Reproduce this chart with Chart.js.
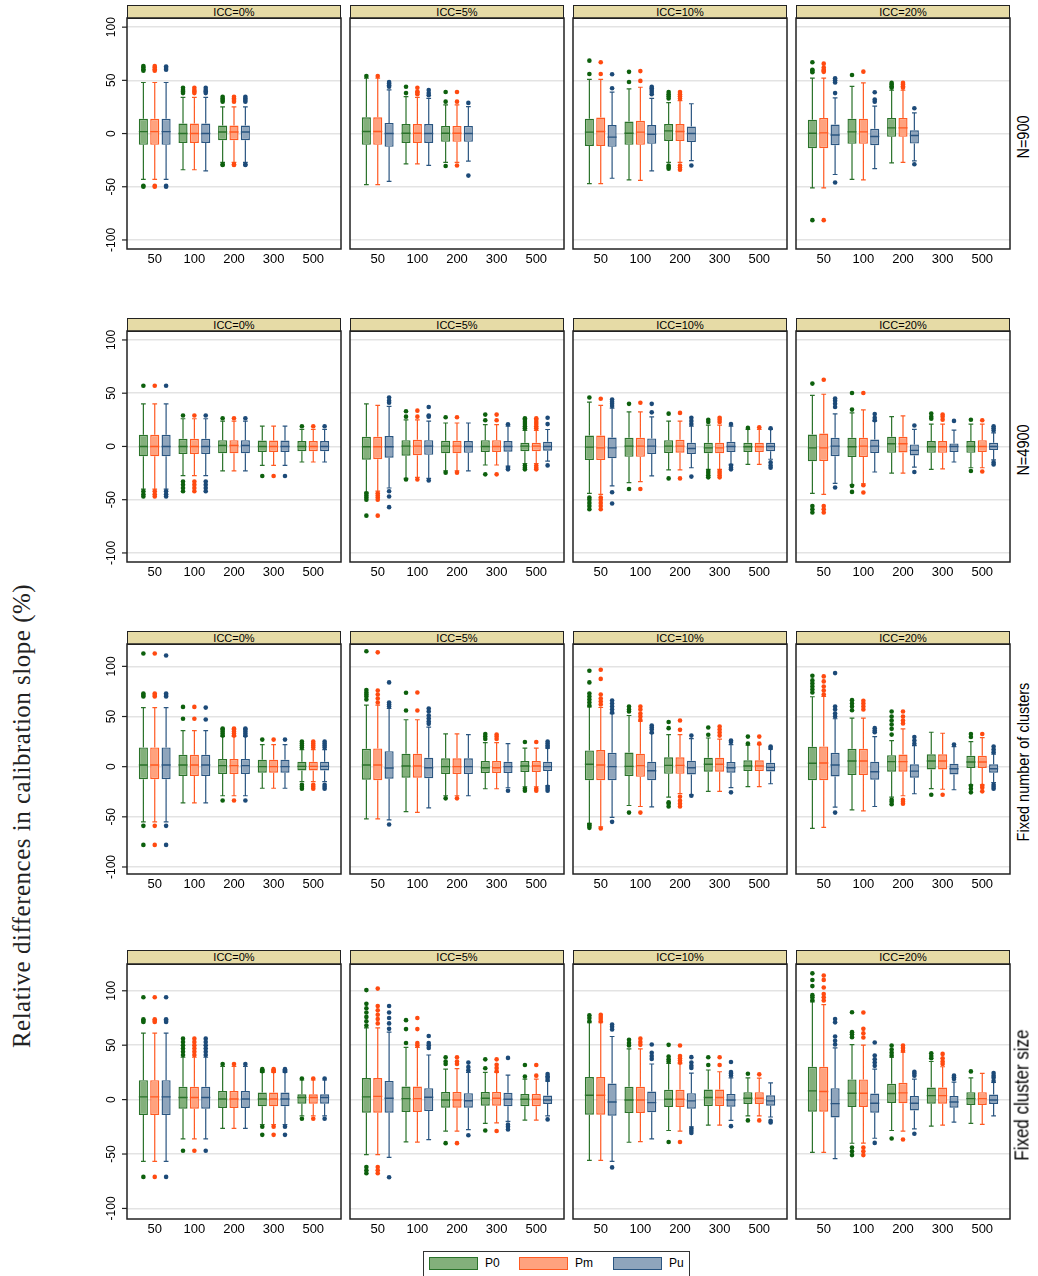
<!DOCTYPE html>
<html>
<head>
<meta charset="utf-8">
<title>Relative differences in calibration slope</title>
<script src="https://cdn.jsdelivr.net/npm/chart.js@4.4.1/dist/chart.umd.min.js"></script>
<style>
  body { margin: 0; background: #fff; }
  #fig { position: relative; width: 1038px; height: 1276px; overflow: hidden; font-family: 'Liberation Sans', Arial, sans-serif; color: #000; }
  #fig canvas { position: absolute; }
  .strip { position: absolute; box-sizing: border-box; border: 1px solid #222; background: #e6dba6; font-size: 11px; text-align: center; }
  .rowlab { position: absolute; white-space: nowrap; font-size: 14.5px; transform: translate(-50%, -50%) rotate(-90deg) scale(1, 1.15); }
  .ytitle { position: absolute; white-space: nowrap; font-family: 'Liberation Serif', 'DejaVu Serif', serif; font-size: 25px; letter-spacing: 0.5px; color: #222;
            transform: translate(-50%, -50%) rotate(-90deg); }
  .legend { position: absolute; box-sizing: border-box; border: 1px solid #333; background: #fff; font-size: 12px; }
  .legend span { position: absolute; }
  .legend .sw { box-sizing: border-box; border: 1.5px solid; width: 49px; height: 13px; }
</style>
</head>
<body>
<div id="fig"></div>
<script>
const categories = ['50', '100', '200', '300', '500'];
const seriesNames = ['P0', 'Pm', 'Pu'];
const iccLabels = ['ICC=0%', 'ICC=5%', 'ICC=10%', 'ICC=20%'];
const rowLabels = ['N=900', 'N=4900', 'Fixed number of clusters', 'Fixed cluster size'];
const yTicks = [-100, -50, 0, 50, 100];

// one entry per cluster count: [lower whisker, q1, median, q3, upper whisker, [outliers]]
// null = setting not simulated

// N=900
const n900_icc0_P0 = [[-43, -10.6, 1.8, 13.8, 48, [-50, -49, 59, 60.5, 62, 63.5]], [-34, -8.8, 0, 9.4, 34, [38, 39.5, 41, 43]], [-27, -6.3, 1.5, 7.5, 25, [-29.5, -29, 30, 31.5, 33, 34.5]], null, null];
const n900_icc0_Pm = [[-43, -10.6, 1.8, 13.8, 48, [-50, -49, 59, 60.5, 62, 63.5]], [-34, -8.8, 0, 9.4, 34, [38, 39.5, 41, 43]], [-27, -6.3, 1.5, 7.5, 25, [-29.5, -29, 30, 31.5, 33, 34.5]], null, null];
const n900_icc0_Pu = [[-43, -10.6, 1.8, 13.8, 48, [-50, -49, 60, 61.5, 63]], [-35, -8.8, 0, 9.4, 34, [38, 39.5, 41, 43]], [-27, -6.3, 1.5, 7.5, 25, [-29.5, -29, 30, 31.5, 33, 34.5]], null, null];

const n900_icc5_P0 = [[-48, -10.6, 1.9, 15.3, 52, [54]], [-28.5, -8.8, 0.3, 9, 34.7, [38, 44]], [-27, -7.8, 0.3, 7.2, 27, [-30.5, 30, 39]], null, null];
const n900_icc5_Pm = [[-48, -10.6, 1.9, 15.3, 52, [54]], [-28.5, -8.8, 0.3, 9, 34, [37, 38.5, 39.5, 43]], [-27, -7.8, 0.3, 7.2, 27, [-30, 30, 39]], null, null];
const n900_icc5_Pu = [[-45, -12.5, 0, 10, 41, [44, 45.5, 47, 48.5]], [-30, -8.8, 0, 9, 33, [36, 38, 41]], [-26, -7.8, 0, 7.2, 25.4, [-39.5, 28.8]], null, null];

const n900_icc10_P0 = [[-47, -11.6, 1.3, 14, 51, [56, 68.5]], [-43.5, -10.6, 0.3, 11.3, 42, [48.5, 58]], [-27, -6.9, 2.5, 9, 29, [-33, -31.5, -30, 33, 35, 37, 39]], null, null];
const n900_icc10_Pm = [[-47, -11.6, 2, 15, 51, [56, 67]], [-44, -10.6, 1.3, 12, 43.5, [49.5, 58.7]], [-27, -6.9, 2, 9, 31, [-34, -32, -30, 33, 35, 37, 39]], null, null];
const n900_icc10_Pu = [[-42, -12.5, -3.4, 8, 39, [42.6, 55.7]], [-35, -9.7, -0.6, 8, 33, [37, 39, 41, 42.5, 44]], [-25.4, -8, 0, 6.6, 28, [-30]], null, null];

const n900_icc20_P0 = [[-51, -13.8, 0.3, 13, 52, [-81.4, 57.6, 59, 60, 67]], [-43, -9.7, 1.6, 14, 44.4, [55]], [-27.5, -3.1, 5.3, 14.7, 40.7, [43, 44.5, 46, 47.6]], null, null];
const n900_icc20_Pm = [[-51, -13.8, 0.6, 14.7, 52, [-81.4, 58, 59, 60, 62, 65.7]], [-43.6, -9.7, 1.6, 14, 47.6, [58.2]], [-27, -3.1, 5.3, 14.7, 40.7, [43, 44.5, 46, 47.6]], null, null];
const n900_icc20_Pu = [[-38.5, -11, -1.3, 8.5, 33.5, [-46, 38, 48, 50, 52]], [-33, -11, -2.8, 4.4, 25.7, [30, 32, 38.8]], [-25.6, -9.4, -1.9, 3.1, 19.4, [-28.8, 23.8]], null, null];

// N=4900
const n4900_icc0_P0 = [[-40, -9.3, 0, 10.9, 40, [-47, -45, -42, 57]], [-27.4, -7.2, 0, 7.2, 26, [-42, -39, -36, -33, 29]], [-23, -6.5, 0.9, 5.9, 23.7, [26.5]], [-17.8, -5.3, 0, 5.6, 19, [-27.7]], [-14.6, -4.4, 0, 5, 16, [19]]];
const n4900_icc0_Pm = [[-40, -9.3, 0, 10.9, 40, [-47, -45, -42, 57]], [-27.4, -7.2, 0, 7.2, 26, [-42, -39, -36, -33, 29]], [-23, -6.5, 0.9, 5.9, 23.7, [26.5]], [-17.8, -5.3, 0, 5.6, 19, [-27.7]], [-14.6, -4.4, 0, 5, 16, [19]]];
const n4900_icc0_Pu = [[-40, -9.3, 0, 10.9, 40, [-47, -45, -42, 57]], [-27.4, -7.2, 0, 7.2, 26, [-42, -39, -36, -33, 29]], [-23, -6.5, 0.9, 5.9, 23.7, [26.5]], [-17.8, -5.3, 0, 5.6, 19, [-27.7]], [-14.6, -4.4, 0, 5, 16, [19]]];

const n4900_icc5_P0 = [[-43, -12.5, -0.3, 9, 40, [-65, -50, -48, -46, -44]], [-30, -8.7, 0.3, 5.9, 25, [-31, 28, 33]], [-23, -6.5, 0.3, 5.3, 22, [-24.6, 27.4]], [-17.4, -5.3, 0, 5.9, 20.5, [-26.2, 24.6, 29.9]], [-16, -4.4, 0.3, 3.4, 15, [-21.5, -20, -18, 17, 19, 21, 23, 25, 26.5]]];
const n4900_icc5_Pm = [[-42, -12, -0.3, 9, 38.6, [-65, -50, -48, -46, -44]], [-29, -8.2, 0.3, 6.2, 25, [-31, 28, 33.6]], [-23, -6.5, 0.3, 5.3, 22, [-24.6, 27.4]], [-17.4, -5.3, 0, 5.9, 20.5, [-26.2, 24.6, 29.9]], [-16, -4.4, 0.3, 3.4, 15, [-21.5, -20, -18, 17, 19, 21, 23, 25, 26.5]]];
const n4900_icc5_Pu = [[-39, -10.6, -0.3, 9.7, 37.7, [-57, -47, -42, 41, 43, 46]], [-30, -7.9, 0.3, 5.9, 23.7, [-32, 28, 29, 37]], [-23, -6, 0, 5, 22, []], [-18.4, -5, 0, 5, 19, [-21.5, -20, 20.9]], [-13.7, -4, 0, 4.5, 15.9, [-17.8, 21, 27]]];

const n4900_icc10_P0 = [[-44, -12.8, -0.6, 10.3, 41.7, [-59, -56, -53, -50, -48, 46]], [-34, -9.7, 0.3, 8.1, 32.4, [-40, 40]], [-22, -6.2, 0.3, 5.9, 23.7, [-30, 30.8]], [-21.5, -6.5, -1.3, 3.4, 20, [-29, -27, -25, -23, 23, 25]], [-16.8, -5.3, -0.3, 3.4, 16, [17.4]]];
const n4900_icc10_Pm = [[-45, -12.8, -1.3, 10.3, 38.6, [-59, -56, -53, -50, -48, 44.8]], [-33, -9.7, 0.3, 8.1, 32.4, [-40, 41]], [-22, -5.9, 0.3, 6.2, 23.7, [-30, 31.5]], [-21.5, -6.5, -1.3, 3.4, 20, [-29, -27, -25, -23, 23, 25, 27]], [-16.8, -5.3, -0.3, 3.4, 16, [18]]];
const n4900_icc10_Pu = [[-37, -11.2, -1.3, 8.4, 36, [-53.6, -43, 38, 40, 42, 44]], [-27.7, -7.2, 0.3, 7.5, 27.7, [32, 40]], [-20, -7.2, -1.9, 3.4, 19, [-28.3, 21, 24, 27]], [-16.8, -5.3, 0, 4.4, 19, [-21.5, -20, -18, 21]], [-12, -4.4, 0, 3.4, 16, [-20, -18, -15, 17]]];

const n4900_icc20_P0 = [[-44, -14, -1.3, 11.2, 48, [-62, -59, -56, 59]], [-36, -10, -0.3, 8.1, 31.5, [-42.7, -37, 34.6, 50.2]], [-25, -6, 2.5, 9, 28, []], [-21.5, -6, -0.3, 5, 21, [26, 28, 31]], [-20, -6, 0, 5, 21, [-23, 25]]];
const n4900_icc20_Pm = [[-45, -13.7, -1.3, 12.1, 49, [-62, -59, -56, 62.6]], [-35.2, -10, 0.3, 8.1, 34.3, [-43.3, -36.5, 50.2]], [-25, -5.6, 2.5, 9, 28.7, []], [-21, -6, -0.3, 5, 21, [25, 28, 30]], [-20, -5.3, 0, 5.9, 21, [-23.5, 24.6]]];
const n4900_icc20_Pu = [[-34.6, -9.1, 0.3, 8.1, 30.5, [-38.6, 37, 40, 43, 45]], [-24, -6.2, 0.3, 6.5, 23.7, [24.6, 27, 30.5]], [-19.4, -8.4, -3.7, 1.9, 16, [-24, 19.6]], [-14.6, -5.3, 0, 2.8, 15.3, [24]], [-12.7, -3.4, 0, 3.4, 12.8, [-17, -15, 15, 17, 19]]];

// Fixed number of clusters
const fnc_icc0_P0 = [[-55, -12.5, 1.7, 19.2, 58.9, [-78, -59, 70, 71.5, 73, 112.8]], [-36, -9.4, 1.7, 11.8, 36, [47.8, 59.6]], [-29, -7.4, 1, 7.7, 30.3, [-33.7, 31, 33, 35, 37, 38]], [-21.5, -6, 0, 7, 22, [27]], [-15, -3.7, 0.3, 5, 17, [-22, -20, -18, 19, 21, 23, 25]]];
const fnc_icc0_Pm = [[-55, -12.5, 1.7, 19.2, 58.9, [-78, -59, 70, 71.5, 73, 112.8]], [-36, -9.4, 1.7, 11.8, 36, [47.8, 59.6]], [-29, -7.4, 1, 7.7, 30.3, [-33.7, 31, 33, 35, 37, 38]], [-21.5, -6, 0, 7, 22, [27]], [-15, -3.7, 0.3, 5, 17, [-22, -20, -18, 19, 21, 23, 25]]];
const fnc_icc0_Pu = [[-55, -12.5, 1.7, 19.2, 58.9, [-78, -59, 70, 71.5, 73, 110.8]], [-36, -9.4, 1.7, 11.8, 36, [47, 58.9]], [-29, -7.4, 1, 7.7, 30.3, [-33.7, 31, 33, 35, 37, 38]], [-21.5, -6, 0, 7, 22, [27]], [-15, -3.7, 0.3, 5, 17, [-22, -20, -18, 19, 21, 23, 25]]];

const fnc_icc5_P0 = [[-52, -13, 1.7, 17.8, 61.3, [67, 70, 72, 74, 76.5, 115]], [-44.8, -11, 0.7, 13, 46.8, [56, 73.7]], [-29, -7.4, 0, 8.4, 32.6, [-31.6]], [-22, -6.4, -1, 5.7, 24, [27.6, 30, 32.6]], [-20, -5.4, 0.7, 5.7, 18.5, [-24, -22, 24.6]]];
const fnc_icc5_Pm = [[-52, -13.5, 1.7, 18.2, 61.3, [64, 68, 72, 76, 114]], [-45.5, -11, 0.7, 13, 46.8, [56, 74]], [-29, -7.4, 0, 8.4, 32.6, [-31.6]], [-22, -6.4, -1, 5.7, 24, [27.6, 30, 32]], [-20, -5.4, 0.7, 5.7, 18.5, [-24, -22, 24.6]]];
const fnc_icc5_Pu = [[-53, -12, -1.3, 15.5, 58, [-57.6, 60, 62, 64, 84]], [-41, -11.5, -1, 9, 39.4, [42.7, 45, 48, 51, 55, 58]], [-29, -7.4, 0, 8.4, 32, []], [-21, -6.4, 0, 5, 23, [-24]], [-19, -4.4, 0, 5, 18.5, [-24, -22, -20, 19.5, 21, 23, 25]]];

const fnc_icc10_P0 = [[-56.6, -13.5, 2.4, 16.2, 59.6, [-61, -59, -58, 61, 64, 67, 70, 73, 84, 95.6]], [-38.7, -9.4, 0.3, 14.1, 51, [-45.8, 55, 57, 60]], [-30.3, -7.1, 1.3, 9.4, 32, [-39.7, -37, -35.4, 38.4, 44.5]], [-24.6, -5, 2.4, 9, 28.6, [31.9, 39]], [-19.9, -4.4, 0.7, 6.4, 21.5, [23, 30]]];
const fnc_icc10_Pm = [[-60, -13.5, 1.7, 16.5, 59, [-61.6, 62, 65, 68, 72, 87.5, 96.6]], [-39.7, -10.1, 1, 13, 45.5, [-45.8, 46.5, 50, 53, 57, 60]], [-26.9, -7.1, 1.3, 9.4, 32, [-39.7, -37, -34, -30, 36.7, 46]], [-24.6, -5, 2.4, 9, 27.5, [31, 34, 37, 40]], [-19.9, -4.4, 0.7, 6.4, 22, [23, 30]]];
const fnc_icc10_Pu = [[-50.5, -13.5, 0, 13.8, 52.9, [-55, 54, 57, 60, 63, 66]], [-40, -13.5, -4, 5, 33.3, [34, 37, 39, 41]], [-28, -7.7, -1, 6, 27.9, [-29, 31]], [-20.9, -6, -1, 4.7, 22, [-25.6, 24.6, 26]], [-17, -4.7, -0.7, 4, 17.5, [18.5, 20]]];

const fnc_icc20_P0 = [[-61.6, -13.5, 3.4, 19.9, 69.7, [74, 77, 80, 83, 86, 90.6]], [-43, -8.4, 5.7, 17.8, 48.5, [56.2, 60, 63, 66.3]], [-30.3, -5, 5, 11.5, 26, [-37.4, -35, -33, 32, 37.7, 42, 46, 50, 55]], [-21.9, -2.7, 5.7, 12.4, 34.3, [-28]], [-18, -1.3, 4.7, 10.8, 25, [-25.6, -22, -19, 29.6, 32.6]]];
const fnc_icc20_Pm = [[-60.6, -13.5, 3.7, 20.2, 70, [72, 76, 80, 85, 90]], [-44, -8.4, 5.7, 17.8, 48.5, [57, 60, 63, 65.7]], [-29, -5, 5, 12.1, 37.7, [-37, -35, -33, 43, 46, 50, 55]], [-22.5, -2.7, 5.7, 12.4, 33.3, [-28]], [-18, -1.3, 4.7, 10.8, 29, [-24.6, -21, -19, 32.6]]];
const fnc_icc20_Pu = [[-40.3, -9.7, 1.7, 13.8, 47.8, [-45.8, 50, 53, 57, 60, 93.3]], [-39.7, -13, -5, 5, 30, [34.3, 36, 38.4]], [-27, -11, -4.4, 2.4, 20.9, [22.9, 26, 29.6]], [-23, -7.7, -2, 3, 20, [22]], [-16, -6, -2, 2.4, 12.5, [-22, -20, -18, 14.5, 17, 20]]];

// Fixed cluster size
const fcs_icc0_P0 = [[-56.8, -14.2, 2.5, 17.9, 61, [-71, 71.3, 72.5, 73.8, 94.1]], [-36, -8.3, 1.9, 11.7, 38.9, [-47, 41, 44, 47, 50, 53, 56]], [-26.5, -7.7, 0.6, 8, 30.6, [32.7]], [-22.9, -6.2, 0.6, 6.5, 25, [-32.4, -25, 26, 27, 28]], [-15, -3.7, 1.9, 4.9, 18, [-17.6, 19.4]]];
const fcs_icc0_Pm = [[-56.8, -14.2, 2.5, 17.9, 61, [-71, 71.3, 72.5, 73.8, 94.1]], [-36, -8.3, 1.9, 11.7, 38.9, [-47, 41, 44, 47, 50, 53, 56]], [-26.5, -7.7, 0.6, 8, 30.6, [32.7]], [-22.9, -6.2, 0.6, 6.5, 25, [-32.4, -25, 26, 27, 28]], [-15, -3.7, 1.9, 4.9, 18, [-17.6, 19.4]]];
const fcs_icc0_Pu = [[-56.8, -14.2, 2.5, 17.9, 61, [-71, 71.3, 72.5, 73.8, 94.1]], [-36, -8.3, 1.9, 11.7, 38.9, [-47, 41, 44, 47, 50, 53, 56]], [-26.5, -7.7, 0.6, 8, 30.6, [32.7]], [-22.9, -6.2, 0.6, 6.5, 25, [-32.4, -25, 26, 27, 28]], [-15, -3.7, 1.9, 4.9, 18, [-17.6, 19.4]]];

const fcs_icc5_P0 = [[-50.6, -12, 2.5, 19.8, 66, [-67.6, -65, -62, 68, 72, 76, 80, 84, 88, 100.6]], [-38.9, -11.4, 0.9, 12, 48, [52, 64.8, 73]], [-29, -7.4, -0.3, 7.1, 28, [-40, 32.7, 35, 38.9]], [-21.9, -5.6, 1.2, 7.1, 25, [-28.4, 28.8, 37]], [-18.8, -6, 0.3, 5.2, 18.8, [21.3, 31.8]]];
const fcs_icc5_Pm = [[-50.6, -12, 3, 19.8, 66, [-67.6, -65, -62, 70, 74, 78, 82, 86, 102]], [-39, -11.4, 0.9, 12, 48, [50, 52, 64.8, 75]], [-29, -7.4, -0.3, 7.1, 28.5, [-40, 32.7, 35, 38.9]], [-21.3, -5.6, 1.2, 7.1, 25, [-28.9, 26, 29, 32, 37]], [-18.8, -6, 0.3, 5.2, 18.8, [22, 31.8]]];
const fcs_icc5_Pu = [[-53, -12, 1.2, 17.2, 62, [-71.3, 65, 70, 75, 80, 86]], [-36.7, -10.5, 2.2, 10.5, 41, [47.5, 50, 52, 58.4]], [-27.5, -7.4, -1, 5.9, 25, [-32.7, 27, 30, 34]], [-20, -6, 0.3, 6.2, 22.5, [-27.5, -25, -23, 38.3]], [-15, -4, -0.3, 3.7, 17, [-18.2, 18, 20, 21.5, 23.5]]];

const fcs_icc10_P0 = [[-55.9, -13.9, 4, 20.7, 70.6, [72, 75, 77.5]], [-39.2, -12.3, -0.3, 11.7, 46.6, [49.7, 52, 54.9]], [-28.4, -6.8, 0.3, 9, 33.3, [-38.9, 35, 37, 39.5, 50.3]], [-23.5, -5.9, 1.9, 9.3, 27.2, [31.8, 38.9]], [-15, -4, 1.2, 6.8, 20, [-19.1, 23.8]]];
const fcs_icc10_Pm = [[-55.9, -13.9, 4, 20.7, 70.6, [72, 74, 76, 78]], [-38.6, -12.3, -0.3, 11.7, 46.6, [50.3, 53, 56]], [-29, -6.8, 0.3, 9, 33, [-38.9, 34, 36, 38, 40, 49.7]], [-23.5, -5.9, 1.9, 9.3, 25.6, [31.8, 38.9]], [-15, -4, 1.2, 6.8, 19.7, [-19.1, 23.2]]];
const fcs_icc10_Pu = [[-56.8, -14.8, -2.2, 14.8, 58, [-62.3, 64.4, 67, 69]], [-36, -11.7, -2.8, 7.4, 32.7, [37.4, 40, 43, 50.6]], [-25, -8.3, -1.2, 5.9, 24.4, [-30.6, -28.5, -26.5, 29, 31, 34, 39]], [-19, -6.5, -0.3, 5.2, 20, [-24.4, 22.2, 24, 25.3, 34.6]], [-16, -5.6, -1.2, 4, 15.4, [-21, -19.5]]];

const fcs_icc20_P0 = [[-48.5, -11.1, 8, 30.2, 89.8, [91.4, 94, 96, 104.3, 109.9, 116]], [-40.1, -6.8, 5.9, 18.5, 50.6, [-51, -47.5, -44, 57.4, 60, 62, 80.2]], [-28.4, -3.1, 5.6, 14.5, 38.9, [-35.8, 40.4, 43, 46, 49.7]], [-24.4, -3.7, 3.7, 11.1, 35, [38, 40, 42.6]], [-21.9, -4.9, 0.9, 6.8, 20, [25.9]]];
const fcs_icc20_Pm = [[-48.5, -11.1, 7.4, 30.2, 87.3, [91, 94, 97, 103, 110, 114]], [-40, -6.8, 5.9, 18.5, 50, [-51, -47.5, -44, 57, 61, 65, 80]], [-28.9, -3.4, 6.2, 15.4, 43.5, [-36.7, 45, 47.5, 49.7]], [-23.5, -3.7, 3.7, 11.1, 30.2, [32.7, 35, 38, 42]], [-22.8, -4.9, 0.9, 6.8, 24.1, []]];
const fcs_icc20_Pu = [[-54.3, -16.4, -3.7, 10.5, 47.5, [50.6, 54, 58, 71, 74]], [-35.5, -12, -3.4, 5.6, 28, [-39.8, 31, 34, 37, 40.5, 52.5]], [-26.8, -9.9, -3.4, 3.4, 18.8, [-31.4, 21.9, 24, 25.6]], [-20.6, -7.4, -2.2, 3.4, 16, [19, 20.5, 22]], [-14.9, -4, -0.3, 4.6, 15.7, [17, 20, 22, 24.4]]];

const panels = [
  [[n900_icc0_P0, n900_icc0_Pm, n900_icc0_Pu], [n900_icc5_P0, n900_icc5_Pm, n900_icc5_Pu],
   [n900_icc10_P0, n900_icc10_Pm, n900_icc10_Pu], [n900_icc20_P0, n900_icc20_Pm, n900_icc20_Pu]],
  [[n4900_icc0_P0, n4900_icc0_Pm, n4900_icc0_Pu], [n4900_icc5_P0, n4900_icc5_Pm, n4900_icc5_Pu],
   [n4900_icc10_P0, n4900_icc10_Pm, n4900_icc10_Pu], [n4900_icc20_P0, n4900_icc20_Pm, n4900_icc20_Pu]],
  [[fnc_icc0_P0, fnc_icc0_Pm, fnc_icc0_Pu], [fnc_icc5_P0, fnc_icc5_Pm, fnc_icc5_Pu],
   [fnc_icc10_P0, fnc_icc10_Pm, fnc_icc10_Pu], [fnc_icc20_P0, fnc_icc20_Pm, fnc_icc20_Pu]],
  [[fcs_icc0_P0, fcs_icc0_Pm, fcs_icc0_Pu], [fcs_icc5_P0, fcs_icc5_Pm, fcs_icc5_Pu],
   [fcs_icc10_P0, fcs_icc10_Pm, fcs_icc10_Pu], [fcs_icc20_P0, fcs_icc20_Pm, fcs_icc20_Pu]]
];

// colours per series
const fills = ['#83b07b', '#ffa27e', '#8fa5bc'];
const edges = ['#2a722a', '#ff5a22', '#2a5580'];
const dots = ['#0d600d', '#ff4a10', '#1c4a78'];

// page geometry (frame = plot area of each panel)
const colLeft = [127, 350, 573, 796];
const frameW = 214;
const stripTop = [5, 318, 631, 950];
const frameTop = [18, 331, 644, 964];
const frameBottom = [249, 562, 874, 1219];
const yRange = [[-108.5, 108.6], [-108.5, 108.4], [-107, 122.3], [-109.7, 124.6]];
const xAxisH = 22;

const fig = document.getElementById('fig');

// whiskers behind the boxes, medians and outside values on top
const boxPlot = {
  id: 'boxPlot',
  beforeDatasetsDraw(chart) {
    const ctx = chart.ctx, y = chart.scales.y;
    chart.data.datasets.forEach((ds, d) => {
      const meta = chart.getDatasetMeta(d);
      ctx.save();
      ctx.strokeStyle = ds.borderColor;
      ctx.lineWidth = 1.2;
      ctx.beginPath();
      meta.data.forEach((bar, j) => {
        const [lo, q1, , q3, hi] = ds.data[j].stats;
        const cap = bar.width * 0.26;
        ctx.moveTo(bar.x, y.getPixelForValue(q3));
        ctx.lineTo(bar.x, y.getPixelForValue(hi));
        ctx.moveTo(bar.x, y.getPixelForValue(q1));
        ctx.lineTo(bar.x, y.getPixelForValue(lo));
        [lo, hi].forEach(v => {
          const py = y.getPixelForValue(v);
          ctx.moveTo(bar.x - cap, py);
          ctx.lineTo(bar.x + cap, py);
        });
      });
      ctx.stroke();
      ctx.restore();
    });
  },
  afterDatasetsDraw(chart) {
    const ctx = chart.ctx, y = chart.scales.y;
    chart.data.datasets.forEach((ds, d) => {
      const meta = chart.getDatasetMeta(d);
      ctx.save();
      ctx.strokeStyle = ds.borderColor;
      ctx.lineWidth = 1.4;
      ctx.beginPath();
      meta.data.forEach((bar, j) => {
        const py = y.getPixelForValue(ds.data[j].stats[2]);
        ctx.moveTo(bar.x - bar.width / 2, py);
        ctx.lineTo(bar.x + bar.width / 2, py);
      });
      ctx.stroke();
      ctx.fillStyle = ds.outlierColor;
      meta.data.forEach((bar, j) => {
        ds.data[j].stats[5].forEach(v => {
          ctx.beginPath();
          ctx.arc(bar.x, y.getPixelForValue(v), 2.3, 0, Math.PI * 2);
          ctx.fill();
        });
      });
      ctx.restore();
    });
  },
  afterDraw(chart, args, opts) {
    const ctx = chart.ctx, a = chart.chartArea, y = chart.scales.y;
    ctx.save();
    if (opts.yLabels) {
      ctx.strokeStyle = '#222';
      ctx.lineWidth = 1.2;
      ctx.fillStyle = '#000';
      ctx.font = "12px 'Liberation Sans', Arial, sans-serif";
      ctx.textAlign = 'center';
      ctx.textBaseline = 'middle';
      yTicks.forEach(v => {
        const py = y.getPixelForValue(v);
        ctx.beginPath();
        ctx.moveTo(a.left - 5, py);
        ctx.lineTo(a.left, py);
        ctx.stroke();
        ctx.save();
        ctx.translate(a.left - 15, py);
        ctx.rotate(-Math.PI / 2);
        ctx.fillText(String(v), 0, 0);
        ctx.restore();
      });
    }
    ctx.strokeStyle = '#222';
    ctx.lineWidth = 1.5;
    ctx.strokeRect(a.left, a.top, a.right - a.left, a.bottom - a.top);
    ctx.restore();
  }
};

panels.forEach((row, r) => {
  row.forEach((series, c) => {
    const padL = c === 0 ? 40 : 3, padR = 3, padT = 2;
    const w = padL + frameW + padR;
    const h = padT + (frameBottom[r] - frameTop[r]) + xAxisH;

    const strip = document.createElement('div');
    strip.className = 'strip';
    strip.style.left = colLeft[c] + 'px';
    strip.style.top = stripTop[r] + 'px';
    strip.style.width = frameW + 'px';
    strip.style.height = (frameTop[r] - stripTop[r] + 1) + 'px';
    strip.style.lineHeight = (frameTop[r] - stripTop[r] - 1) + 'px';
    strip.textContent = iccLabels[c];
    fig.appendChild(strip);

    const canvas = document.createElement('canvas');
    canvas.width = w;
    canvas.height = h;
    canvas.style.left = (colLeft[c] - padL) + 'px';
    canvas.style.top = (frameTop[r] - padT) + 'px';
    canvas.style.width = w + 'px';
    canvas.style.height = h + 'px';
    fig.appendChild(canvas);

    new Chart(canvas.getContext('2d'), {
      type: 'bar',
      data: {
        datasets: series.map((stats, k) => ({
          label: seriesNames[k],
          data: stats.flatMap((s, i) => s ? [{ x: i + 1, y: [s[1], s[3]], stats: s }] : []),
          backgroundColor: fills[k],
          borderColor: edges[k],
          outlierColor: dots[k],
          borderWidth: 1.4,
          borderSkipped: false,
          categoryPercentage: 0.86,
          barPercentage: 0.8
        }))
      },
      options: {
        responsive: false,
        animation: false,
        devicePixelRatio: 1,
        events: [],
        layout: { padding: { left: padL, right: padR, top: padT, bottom: 0 } },
        plugins: {
          legend: { display: false },
          tooltip: { enabled: false },
          boxPlot: { yLabels: c === 0 }
        },
        scales: {
          x: {
            type: 'linear',
            offset: false,
            min: 0.3,
            max: 5.7,
            grid: { display: false, drawTicks: false },
            border: { display: false },
            afterBuildTicks: s => { s.ticks = categories.map((_, i) => ({ value: i + 1 })); },
            afterFit: s => { s.height = xAxisH; },
            ticks: {
              autoSkip: false,
              maxRotation: 0,
              padding: 3,
              color: '#000',
              font: { family: "'Liberation Sans', Arial, sans-serif", size: 13 },
              callback: v => categories[v - 1]
            }
          },
          y: {
            min: yRange[r][0],
            max: yRange[r][1],
            afterBuildTicks: s => { s.ticks = yTicks.map(v => ({ value: v })); },
            afterFit: s => { s.width = 0; },
            grid: { color: '#e3e3e3', lineWidth: 1.6, drawTicks: false },
            border: { display: false },
            ticks: { display: false }
          }
        }
      },
      plugins: [boxPlot]
    });
  });

  const lab = document.createElement('div');
  lab.className = 'rowlab';
  lab.textContent = rowLabels[r];
  lab.style.left = '1023px';
  lab.style.top = ((frameTop[r] + frameBottom[r]) / 2 + 3) + 'px';
  if (r === 3) lab.style.fontSize = '17px';
  fig.appendChild(lab);
});

// shared y title
const yt = document.createElement('div');
yt.className = 'ytitle';
yt.textContent = 'Relative differences in calibration slope (%)';
yt.style.left = '22px';
yt.style.top = '816px';
fig.appendChild(yt);

// legend
const legend = document.createElement('div');
legend.className = 'legend';
Object.assign(legend.style, { left: '423px', top: '1251px', width: '267px', height: '30px' });
const swatchX = [5, 95, 189];
seriesNames.forEach((name, k) => {
  const sw = document.createElement('span');
  sw.className = 'sw';
  Object.assign(sw.style, { left: swatchX[k] + 'px', top: '5px', background: fills[k], borderColor: edges[k] });
  legend.appendChild(sw);
  const t = document.createElement('span');
  t.textContent = name;
  Object.assign(t.style, { left: (swatchX[k] + 56) + 'px', top: '4px' });
  legend.appendChild(t);
});
fig.appendChild(legend);
</script>
</body>
</html>
